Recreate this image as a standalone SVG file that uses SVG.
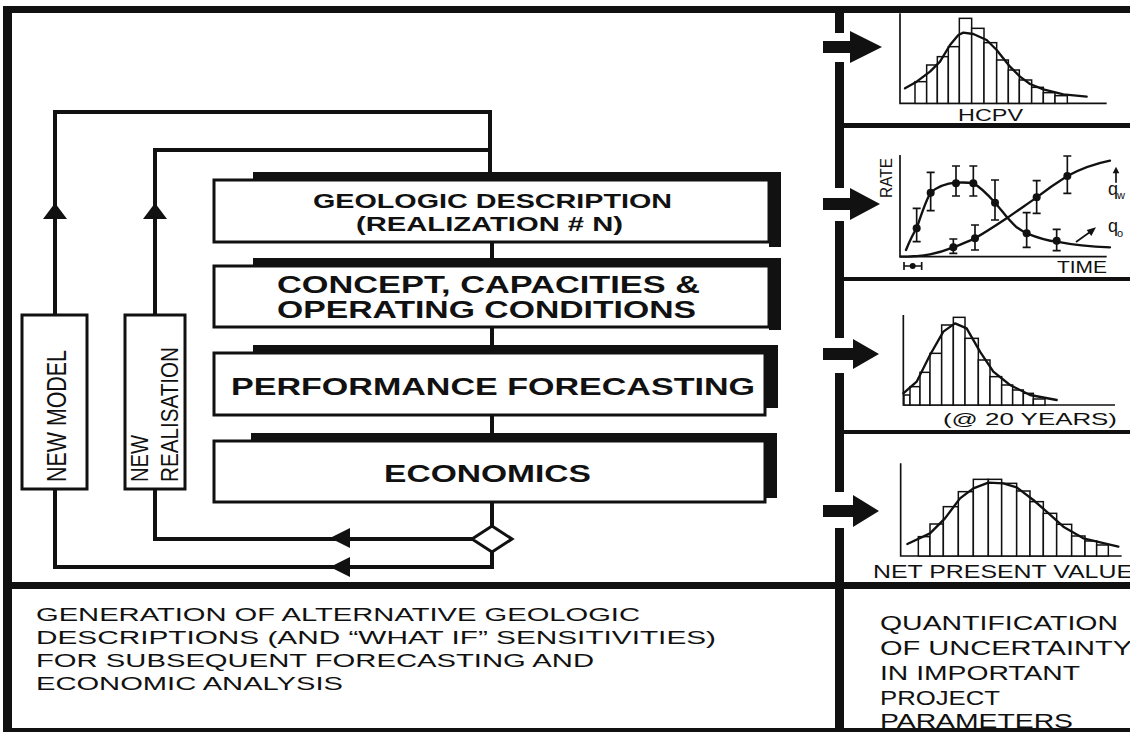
<svg xmlns="http://www.w3.org/2000/svg" width="1130" height="732" viewBox="0 0 1130 732">
<style>
.frame{fill:#111}
.box{fill:#fff;stroke:#111;stroke-width:3}
.shadow{fill:#111}
.bt{font-family:"Liberation Sans",Arial,sans-serif;font-weight:bold;fill:#111}
.rt{font-family:"Liberation Sans",Arial,sans-serif;fill:#111}
.ln{fill:none;stroke:#111;stroke-width:4}
.ah{fill:#111}
.ax{fill:none;stroke:#111;stroke-width:5}
.bar{fill:#fff;stroke:#111;stroke-width:4.5}
.cv{fill:none;stroke:#111;stroke-width:7;stroke-linejoin:round;stroke-linecap:round}
.eb{fill:none;stroke:#111;stroke-width:5}
.dot{fill:#111}
</style>
<rect width="1130" height="732" fill="#fff"/>
<!-- frame -->
<g id="frame">
<rect class="frame" x="3" y="6" width="1127" height="7"/>
<rect class="frame" x="3" y="6" width="9" height="726"/>
<rect class="frame" x="3" y="728" width="1127" height="4"/>
<rect class="frame" x="12" y="582" width="1118" height="7"/>
<rect class="frame" x="839" y="123" width="291" height="5"/>
<rect class="frame" x="839" y="277" width="291" height="4"/>
<rect class="frame" x="839" y="430" width="291" height="4"/>
<rect class="frame" x="835" y="6" width="9" height="27"/>
<rect class="frame" x="835" y="62" width="9" height="126"/>
<rect class="frame" x="835" y="221" width="9" height="117"/>
<rect class="frame" x="835" y="373" width="9" height="119"/>
<rect class="frame" x="835" y="528" width="9" height="204"/>
</g>
<!-- connectors -->
<g id="connectors">
<path class="ln" d="M55,315 V112 H490 V174"/>
<path class="ln" d="M155,315 V150 H490"/>
<path class="ln" d="M492,242 V259"/>
<path class="ln" d="M492,327 V346"/>
<path class="ln" d="M492,415 V434"/>
<path class="ln" d="M492,502 V526"/>
<path class="ln" d="M472,539 H155 V489"/>
<path class="ln" d="M492,552 V567 H55 V489"/>
<polygon class="ah" points="55,203 43,219 67,219"/>
<polygon class="ah" points="155,203 143,219 167,219"/>
<polygon class="ah" points="330,538 350,528 350,548"/>
<polygon class="ah" points="330,567 350,557 350,577"/>
<polygon points="492,526 512,539 492,552 472,539" fill="#fff" stroke="#111" stroke-width="3"/>
<path class="ah" d="M823,41 H850 V31 L882,47 L850,63 V53 H823 Z"/>
<path class="ah" d="M823,198 H850 V188 L880,204 L850,220 V210 H823 Z"/>
<path class="ah" d="M823,348 H853 V339 L879,354 L853,369 V360 H823 Z"/>
<path class="ah" d="M823,505 H853 V495 L879,511 L853,527 V517 H823 Z"/>
</g>
<!-- flow boxes -->
<g id="box-geologic">
<polygon class="shadow" points="253,172 781,172 781,247 769,247 769,180 253,180"/>
<rect class="box" x="214" y="180" width="555" height="62"/>
<text class="bt" x="313" y="208" font-size="20" textLength="359" lengthAdjust="spacingAndGlyphs">GEOLOGIC DESCRIPTION</text>
<text class="bt" x="356" y="231" font-size="20" textLength="267" lengthAdjust="spacingAndGlyphs">(REALIZATION # N)</text>
</g>
<g id="box-concept">
<polygon class="shadow" points="253,258 781,258 781,330 769,330 769,266 253,266"/>
<rect class="box" x="214" y="266" width="555" height="61"/>
<text class="bt" x="277" y="293" font-size="23" textLength="423" lengthAdjust="spacingAndGlyphs">CONCEPT, CAPACITIES &amp;</text>
<text class="bt" x="277" y="318" font-size="23" textLength="419" lengthAdjust="spacingAndGlyphs">OPERATING CONDITIONS</text>
</g>
<g id="box-performance">
<polygon class="shadow" points="253,345 778,345 778,408 765,408 765,353 253,353"/>
<rect class="box" x="214" y="353" width="551" height="62"/>
<text class="bt" x="231" y="395" font-size="23" textLength="524" lengthAdjust="spacingAndGlyphs">PERFORMANCE FORECASTING</text>
</g>
<g id="box-economics">
<polygon class="shadow" points="251,433 777,433 777,498 765,498 765,441 251,441"/>
<rect class="box" x="214" y="441" width="551" height="61"/>
<text class="bt" x="384" y="482" font-size="23" textLength="207" lengthAdjust="spacingAndGlyphs">ECONOMICS</text>
</g>
<g id="box-new-model">
<rect class="box" x="22" y="315" width="65" height="174"/>
<text class="rt" transform="translate(66,482) rotate(-90)" font-size="28" textLength="132" lengthAdjust="spacingAndGlyphs">NEW MODEL</text>
</g>
<g id="box-new-realisation">
<rect class="box" x="125" y="315" width="60" height="174"/>
<text class="rt" transform="translate(148,482) rotate(-90)" font-size="23" textLength="47" lengthAdjust="spacingAndGlyphs">NEW</text>
<text class="rt" transform="translate(178,482) rotate(-90)" font-size="23" textLength="135" lengthAdjust="spacingAndGlyphs">REALISATION</text>
</g>
<!-- chart 1 HCPV -->
<g id="chart-hcpv">
<g transform="translate(830,0) scale(0.33333)">
<path class="ax" d="M210,40 V310 H830"/>
<rect class="bar" x="255" y="245" width="35" height="65"/>
<rect class="bar" x="290" y="195" width="32" height="115"/>
<rect class="bar" x="322" y="170" width="33" height="140"/>
<rect class="bar" x="355" y="140" width="33" height="170"/>
<rect class="bar" x="388" y="55" width="37" height="255"/>
<rect class="bar" x="425" y="85" width="37" height="225"/>
<rect class="bar" x="462" y="128" width="38" height="182"/>
<rect class="bar" x="500" y="180" width="35" height="130"/>
<rect class="bar" x="535" y="210" width="33" height="100"/>
<rect class="bar" x="568" y="240" width="37" height="70"/>
<rect class="bar" x="605" y="262" width="35" height="48"/>
<rect class="bar" x="640" y="278" width="35" height="32"/>
<rect class="bar" x="675" y="287" width="37" height="23"/>
<polyline class="cv" points="225,265 260,245 300,215 330,185 360,135 385,105 400,98 430,102 470,120 500,150 540,200 570,230 600,252 640,268 700,283 770,290"/>
</g>
<text class="rt" x="958" y="121" font-size="17" textLength="65" lengthAdjust="spacingAndGlyphs">HCPV</text>
</g>
<!-- chart 2 RATE -->
<g id="chart-rate">
<g transform="translate(830,140) scale(0.33333)">
<path class="ax" d="M210,45 V350 H830"/>
<path class="cv" d="M228,330 C240,300 250,280 260,265 C275,220 288,180 302,158 C325,138 350,130 378,128 C400,127 420,128 430,130 C450,140 470,160 495,188 C515,210 530,235 560,262 C575,272 585,278 590,280 C630,296 660,303 680,305 C730,315 780,320 840,322"/>
<path class="cv" d="M212,350 C250,350 280,347 300,343 C330,337 350,330 370,322 C395,312 420,303 435,295 C470,275 500,255 530,235 C565,210 595,190 620,172 C655,145 685,125 712,108 C755,85 800,70 840,62"/>
<path class="eb" d="M260,205 V305 M248,205 H272 M248,305 H272 M302,97 V212 M290,97 H314 M290,212 H314 M378,78 V168 M366,78 H390 M366,168 H390 M430,78 V168 M418,78 H442 M418,168 H442 M495,120 V240 M483,120 H507 M483,240 H507 M590,218 V322 M578,218 H602 M578,322 H602 M680,268 V332 M668,268 H692 M668,332 H692 M370,297 V340 M358,297 H382 M358,340 H382 M435,255 V330 M423,255 H447 M423,330 H447 M620,122 V220 M608,122 H632 M608,220 H632 M712,48 V160 M700,48 H724 M700,160 H724"/>
<circle class="dot" cx="260" cy="265" r="12"/>
<circle class="dot" cx="302" cy="158" r="12"/>
<circle class="dot" cx="378" cy="130" r="12"/>
<circle class="dot" cx="430" cy="130" r="12"/>
<circle class="dot" cx="495" cy="188" r="12"/>
<circle class="dot" cx="590" cy="280" r="12"/>
<circle class="dot" cx="680" cy="302" r="12"/>
<circle class="dot" cx="370" cy="322" r="12"/>
<circle class="dot" cx="435" cy="295" r="12"/>
<circle class="dot" cx="620" cy="172" r="12"/>
<circle class="dot" cx="712" cy="108" r="12"/>
<path class="eb" d="M222,378 H275 M222,366 V390 M275,366 V390"/>
<circle class="dot" cx="248" cy="378" r="9"/>
<path class="eb" d="M858,128 V95"/>
<polygon class="ah" points="858,80 848,100 868,100"/>
<path class="eb" d="M738,306 L780,276"/>
<polygon class="ah" points="798,262 770,270 784,288"/>
</g>
<text class="rt" transform="translate(892,198) rotate(-90)" font-size="16" textLength="40" lengthAdjust="spacingAndGlyphs">RATE</text>
<text class="rt" x="1057" y="273" font-size="17" textLength="50" lengthAdjust="spacingAndGlyphs">TIME</text>
<text class="rt" x="1108" y="195" font-size="18">q</text>
<text class="rt" x="1117" y="199" font-size="11">w</text>
<text class="rt" x="1108" y="232" font-size="18">q</text>
<text class="rt" x="1117" y="237" font-size="11">o</text>
</g>
<!-- chart 3 -->
<g id="chart-20years">
<g transform="translate(830,285) scale(0.33333)">
<path class="ax" d="M220,90 V360 H855"/>
<rect class="bar" x="222" y="330" width="18" height="30"/>
<rect class="bar" x="240" y="305" width="30" height="55"/>
<rect class="bar" x="270" y="262" width="30" height="98"/>
<rect class="bar" x="300" y="205" width="35" height="155"/>
<rect class="bar" x="335" y="120" width="35" height="240"/>
<rect class="bar" x="370" y="97" width="35" height="263"/>
<rect class="bar" x="405" y="160" width="40" height="200"/>
<rect class="bar" x="445" y="225" width="35" height="135"/>
<rect class="bar" x="480" y="275" width="35" height="85"/>
<rect class="bar" x="515" y="300" width="33" height="60"/>
<rect class="bar" x="548" y="315" width="32" height="45"/>
<rect class="bar" x="580" y="325" width="30" height="35"/>
<rect class="bar" x="610" y="342" width="35" height="18"/>
<polyline class="cv" points="220,325 260,290 300,210 340,140 375,115 410,130 450,200 490,260 540,300 600,330 680,345"/>
</g>
<text class="rt" x="943" y="425" font-size="17" textLength="174" lengthAdjust="spacingAndGlyphs">(@ 20 YEARS)</text>
</g>
<!-- chart 4 -->
<g id="chart-npv">
<g transform="translate(830,430) scale(0.33333)">
<path class="ax" d="M212,100 V378 H875"/>
<rect class="bar" x="265" y="320" width="35" height="58"/>
<rect class="bar" x="300" y="282" width="40" height="96"/>
<rect class="bar" x="340" y="230" width="45" height="148"/>
<rect class="bar" x="385" y="185" width="45" height="193"/>
<rect class="bar" x="430" y="148" width="45" height="230"/>
<rect class="bar" x="475" y="148" width="40" height="230"/>
<rect class="bar" x="515" y="160" width="45" height="218"/>
<rect class="bar" x="560" y="183" width="40" height="195"/>
<rect class="bar" x="600" y="215" width="40" height="163"/>
<rect class="bar" x="640" y="250" width="40" height="128"/>
<rect class="bar" x="680" y="283" width="45" height="95"/>
<rect class="bar" x="725" y="318" width="40" height="60"/>
<rect class="bar" x="765" y="333" width="35" height="45"/>
<rect class="bar" x="800" y="345" width="35" height="33"/>
<polyline class="cv" points="232,342 300,310 345,265 390,205 430,175 475,158 520,160 560,172 610,210 650,245 700,290 760,325 865,350"/>
</g>
<text class="rt" x="873" y="578" font-size="18" textLength="260" lengthAdjust="spacingAndGlyphs">NET PRESENT VALUE</text>
</g>
<!-- bottom texts -->
<g id="caption-left">
<text class="rt" x="36" y="621" font-size="19" textLength="604" lengthAdjust="spacingAndGlyphs">GENERATION OF ALTERNATIVE GEOLOGIC</text>
<text class="rt" x="36" y="644" font-size="19" textLength="680" lengthAdjust="spacingAndGlyphs">DESCRIPTIONS (AND “WHAT IF” SENSITIVITIES)</text>
<text class="rt" x="36" y="667" font-size="19" textLength="558" lengthAdjust="spacingAndGlyphs">FOR SUBSEQUENT FORECASTING AND</text>
<text class="rt" x="36" y="690" font-size="19" textLength="307" lengthAdjust="spacingAndGlyphs">ECONOMIC ANALYSIS</text>
</g>
<g id="caption-right">
<text class="rt" x="880" y="630" font-size="21" textLength="238" lengthAdjust="spacingAndGlyphs">QUANTIFICATION</text>
<text class="rt" x="880" y="655" font-size="21" textLength="252" lengthAdjust="spacingAndGlyphs">OF UNCERTAINTY</text>
<text class="rt" x="880" y="680" font-size="21" textLength="200" lengthAdjust="spacingAndGlyphs">IN IMPORTANT</text>
<text class="rt" x="880" y="705" font-size="21" textLength="120" lengthAdjust="spacingAndGlyphs">PROJECT</text>
<text class="rt" x="880" y="728" font-size="21" textLength="193" lengthAdjust="spacingAndGlyphs">PARAMETERS</text>
</g>
</svg>
